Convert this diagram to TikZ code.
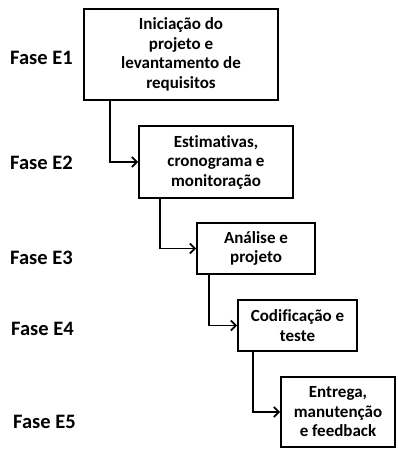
\documentclass[tikz,border=0pt]{standalone}
\usepackage{fontspec}
\setmainfont[Ligatures=NoCommon]{Carlito}
\usetikzlibrary{arrows.meta}
\begin{document}
\begin{tikzpicture}[x=1pt,y=-1pt,
  phasebox/.style={draw=black,line width=1.8pt,align=center,inner sep=0pt,
    font=\bfseries\fontsize{17}{19.5}\selectfont},
  phaselabel/.style={anchor=west,inner sep=0pt,font=\bfseries\fontsize{20.5}{24}\selectfont},
  flow/.style={line width=1.8pt,-{Straight Barb[length=5pt,width=10pt,line width=1.8pt]}}]
\useasboundingbox (0,0) rectangle (397,449);
\node[phasebox,minimum width=194pt,minimum height=91pt] (b1) at (181,54.5)
  {Iniciação do\\projeto e\\levantamento de\\requisitos};
\node[phasebox,minimum width=154pt,minimum height=72pt] (b2) at (216,162)
  {Estimativas,\\cronograma e\\monitoração};
\node[phasebox,minimum width=118pt,minimum height=51pt] (b3) at (256,248.5)
  {Análise e\\projeto};
\node[phasebox,minimum width=119pt,minimum height=51pt] (b4) at (297.5,325.5)
  {Codificação e\\teste};
\node[phasebox,minimum width=114pt,minimum height=70pt] (b5) at (338,412)
  {Entrega,\\manutenção\\e feedback};
\node[phaselabel] (l1) at (10,58) {Fase E1};
\node[phaselabel] (l2) at (10,163) {Fase E2};
\node[phaselabel] (l3) at (10,258) {Fase E3};
\node[phaselabel] (l4) at (11,329) {Fase E4};
\node[phaselabel] (l5) at (13,422) {Fase E5};
\draw[flow] ([xshift=27pt]b1.south west) |- (b2.west);
\draw[flow] ([xshift=22pt]b2.south west) |- (b3.west);
\draw[flow] ([xshift=13pt]b3.south west) |- (b4.west);
\draw[flow] ([xshift=16pt]b4.south west) |- (b5.west);
\end{tikzpicture}
\end{document}
